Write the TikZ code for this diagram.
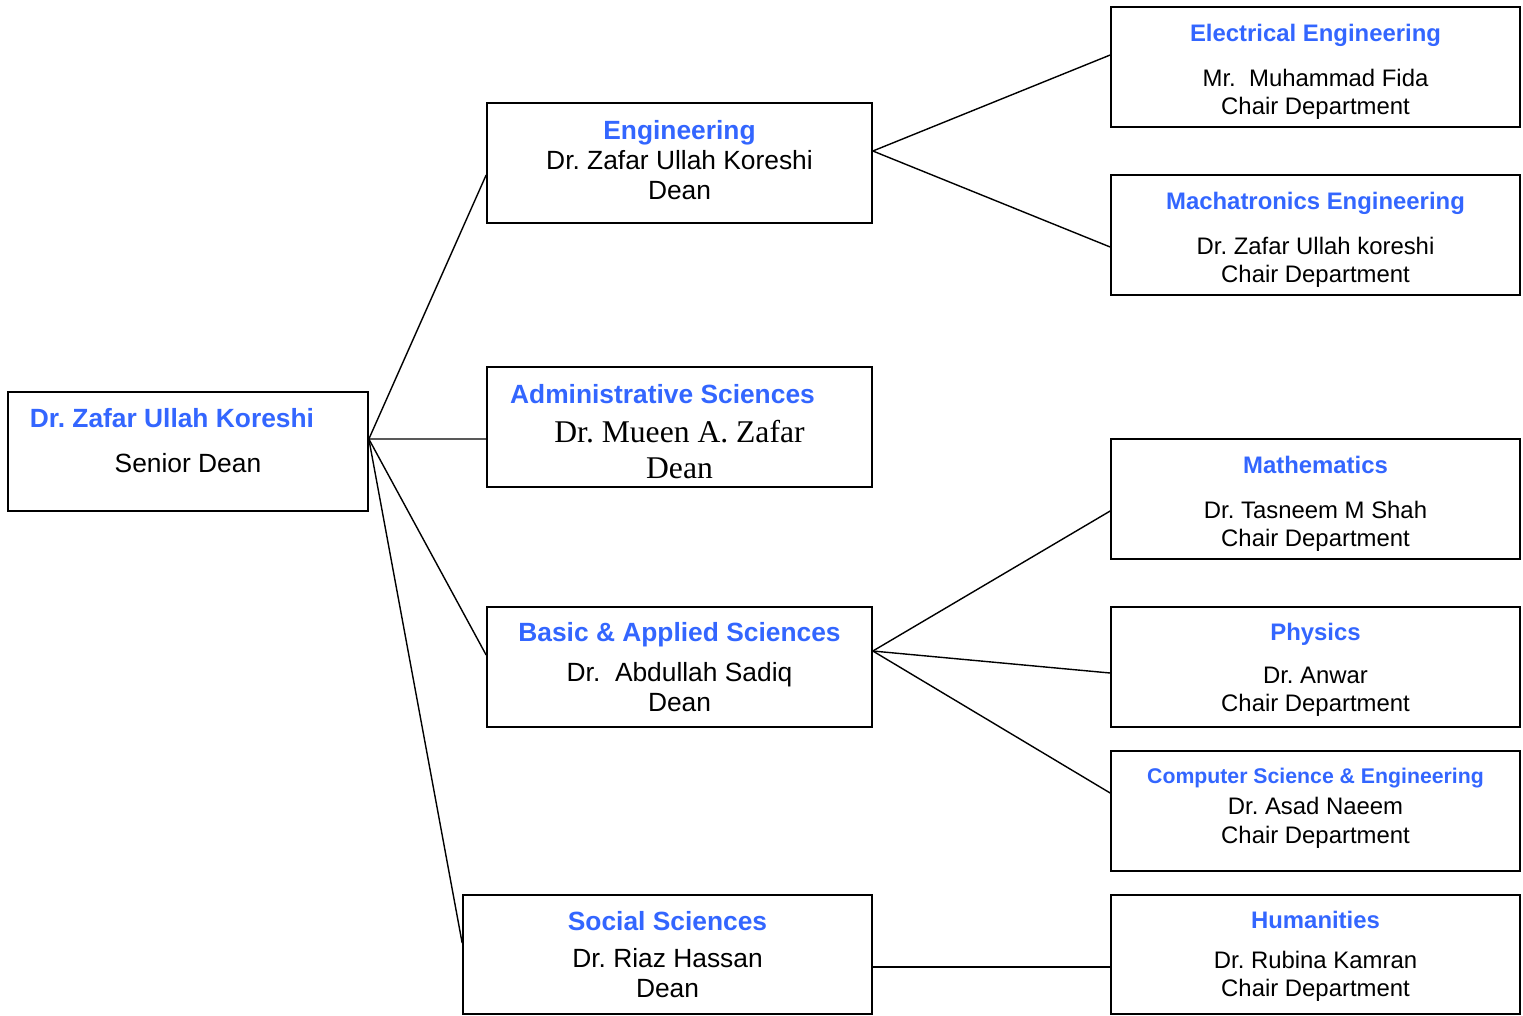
\documentclass[tikz,border=0pt]{standalone}
\usepackage{fontspec}
\setmainfont{Liberation Sans}
\newfontfamily\timesfont{Liberation Serif}
\usetikzlibrary{calc}
\definecolor{hdr}{RGB}{51,102,255}
\newcommand{\ttl}[1]{\textcolor{hdr}{\bfseries #1}}
\newcommand{\lift}[1]{\rule{0pt}{#1}}
\frenchspacing

\begin{document}
\begin{tikzpicture}[x=0.02cm,y=-0.02cm,
  box/.style={draw,line width=1pt,align=center,inner sep=0pt,minimum height=2.4cm},
  midbox/.style={box,minimum width=7.7cm,font=\fontsize{15}{17}\selectfont},
  chairbox/.style={box,minimum width=8.18cm,font=\fontsize{13.6}{16}\selectfont,text depth=0pt},
  pushup/.style={execute at end node={\rule[-#1]{0pt}{0pt}}},
  link/.style={line width=0.8pt}]
  \useasboundingbox (0,0) rectangle (1523,1015);
  % senior dean
  \node[box,minimum width=7.2cm,minimum height=2.38cm,font=\fontsize{15}{17}\selectfont,text depth=12.6pt] (root) at (188,451.5)
    {\ttl{Dr. Zafar Ullah Koreshi}\hspace*{0.64cm}\\[9pt] Senior Dean};
  % faculties
  \node[midbox,pushup=3.4pt] (eng) at (679.5,163) {\ttl{Engineering}\\ Dr. Zafar Ullah Koreshi\\ Dean};
  \node[midbox] (adm) at (679.5,427)
    {\lift{16pt}\ttl{Administrative Sciences}\hspace*{0.68cm}\\[5.1pt] {\timesfont\fontsize{18}{20.5}\selectfont Dr. Mueen A. Zafar}\\[3.5pt] {\timesfont\fontsize{18}{20.5}\selectfont Dean}};
  \node[midbox] (bas) at (679.5,667) {\ttl{Basic \& Applied Sciences}\\[5.8pt] Dr.\ \ Abdullah Sadiq\\ Dean};
  \node[midbox,minimum width=8.18cm,minimum height=2.38cm] (soc) at (667.5,954.5) {\ttl{Social Sciences}\\[4pt] Dr. Riaz Hassan\\ Dean};
  % departments
  \node[chairbox] (ee) at (1315.5,67) {\lift{12.5pt}\ttl{Electrical Engineering}\\[10pt] Mr.\ \ Muhammad Fida\\ Chair Department};
  \node[chairbox] (me) at (1315.5,235) {\lift{12.5pt}\ttl{Machatronics Engineering}\\[10pt] Dr. Zafar Ullah koreshi\\ Chair Department};
  \node[chairbox] (math) at (1315.5,499) {\lift{12.5pt}\ttl{Mathematics}\\[10pt] Dr. Tasneem M Shah\\ Chair Department};
  \node[chairbox] (phy) at (1315.5,667) {\ttl{Physics}\\[8.5pt] Dr. Anwar\\ Chair Department};
  \node[chairbox,text depth=6.3pt] (cse) at (1315.5,811)
    {{\fontsize{12.1}{14}\selectfont\ttl{Computer Science \& Engineering}}\\[2pt] Dr. Asad Naeem\\ Chair Department};
  \node[chairbox,text depth=0.6pt,minimum height=2.38cm] (hum) at (1315.5,954.5) {\ttl{Humanities}\\[6.8pt] Dr. Rubina Kamran\\ Chair Department};
  % connectors
  \coordinate (hub) at ([yshift=0.25cm]root.east);
  \draw[link] (hub) -- ([yshift=-0.24cm]eng.west);
  \draw[link] (hub) -- ([yshift=-0.24cm]adm.west);
  \draw[link] (hub) -- ([yshift=0.24cm]bas.west);
  \draw[link] (hub) -- ([yshift=0.23cm]soc.west);
  \coordinate (engout) at ([yshift=0.24cm]eng.east);
  \draw[link] (engout) -- ([yshift=0.24cm]ee.west);
  \draw[link] (engout) -- ([yshift=-0.24cm]me.west);
  \coordinate (basout) at ([yshift=0.32cm]bas.east);
  \draw[link] (basout) -- ([yshift=-0.24cm]math.west);
  \draw[link] (basout) -- ([yshift=-0.12cm]phy.west);
  \draw[link] (basout) -- ([yshift=0.36cm]cse.west);
  \draw[link] ([yshift=-0.25cm]soc.east) -- ([yshift=-0.25cm]hum.west);
\end{tikzpicture}
\end{document}
